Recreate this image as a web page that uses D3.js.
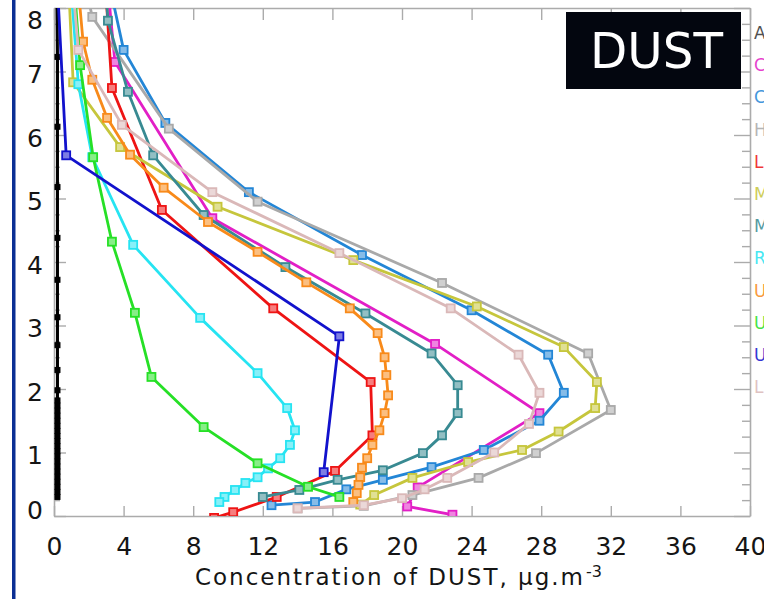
<!DOCTYPE html>
<html>
<head>
<meta charset="utf-8">
<script src="https://cdn.jsdelivr.net/npm/d3@7"></script>
<style>
  html, body { margin: 0; padding: 0; background: #ffffff; }
  svg { display: block; }
</style>
</head>
<body>
<svg id="chart" width="764" height="599"></svg>
<script>
// ---- axis ticks ----
const xTickValues = [0, 4, 8, 12, 16, 20, 24, 28, 32, 36, 40];
const yTickValues = [0, 1, 2, 3, 4, 5, 6, 7, 8];

// ---- series: [concentration (µg/m3), altitude (km)] ----
const seriesNames = ["ALADIN", "CHIMERE", "COSMO-MUSCAT", "HadGEM", "LMDz", "MesoNH",
                     "MM5", "RegCM", "UKMO", "UM-global", "UM-regional", "LMDz-INCA"];
const seriesColors = ["#000000", "#e21fc6", "#2386d6", "#a9a9a9", "#ee1414", "#c6c63c",
                      "#388a92", "#26e4f2", "#f88a1a", "#26e026", "#1212cc", "#dab8b8"];

const aladin = [[0.2,0.30],[0.2,0.38],[0.2,0.46],[0.2,0.54],[0.2,0.62],[0.2,0.70],[0.2,0.78],
  [0.2,0.86],[0.2,0.94],[0.2,1.02],[0.2,1.10],[0.2,1.18],[0.2,1.26],[0.2,1.34],[0.2,1.42],
  [0.2,1.50],[0.2,1.58],[0.2,1.66],[0.2,1.74],[0.2,1.82],[0.2,1.98],[0.2,2.30],[0.2,2.69],
  [0.2,3.13],[0.2,3.72],[0.2,4.38],[0.2,5.18],[0.2,6.13],[0.2,7.23],[0.15,8.6]];
const chimere = [[3.0,8.6],[3.5,7.15],[9.1,4.69],[21.9,2.71],[27.9,1.62],[20.9,0.45],[20.3,0.15],[22.9,0.02]];
const cosmo = [[3.0,8.6],[4.0,7.34],[6.4,6.19],[11.2,5.1],[17.7,4.11],[24.0,3.24],[28.4,2.54],
  [29.3,1.94],[27.9,1.5],[24.7,1.04],[21.7,0.77],[18.9,0.57],[16.8,0.42],[15.0,0.22],[12.5,0.17]];
const hadgem = [[1.6,8.6],[2.2,7.86],[6.6,6.1],[11.7,4.95],[22.3,3.67],[30.7,2.56],[32.0,1.67],
  [27.7,0.99],[24.4,0.6],[20.6,0.33],[17.8,0.16],[14.0,0.12]];
const lmdz = [[2.9,8.6],[3.33,6.74],[6.2,4.82],[12.6,3.27],[18.2,2.11],[18.3,1.27],[16.15,0.71],
  [12.8,0.30],[10.3,0.06],[9.2,-0.03]];
const mesonh = [[0.8,8.6],[1.1,6.83],[3.8,5.81],[9.4,4.87],[17.2,4.03],[24.3,3.3],[29.3,2.66],
  [31.2,2.11],[31.1,1.70],[29.0,1.33],[26.9,1.04],[23.8,0.85],[20.6,0.6],[18.4,0.33],[17.6,0.18]];
const mm5 = [[2.9,8.6],[3.1,7.8],[4.25,6.68],[5.7,5.68],[8.6,4.74],[13.3,3.92],[17.9,3.19],
  [21.7,2.56],[23.2,2.06],[23.2,1.62],[22.3,1.27],[21.2,0.99],[18.9,0.72],[16.3,0.57],[14.1,0.41],[12.0,0.30]];
const regcm = [[0.9,8.6],[1.4,6.8],[2.2,5.65],[4.55,4.27],[8.4,3.12],[11.7,2.25],[13.4,1.70],
  [13.85,1.35],[13.56,1.12],[13.0,0.91],[12.3,0.75],[11.7,0.61],[11.0,0.52],[10.4,0.41],[9.8,0.30],[9.5,0.22]];
const ukmo = [[1.3,8.6],[1.67,7.47],[2.2,6.87],[3.05,6.27],[4.37,5.69],[6.3,5.17],[8.85,4.63],
  [11.7,4.16],[14.5,3.68],[17.0,3.27],[18.6,2.88],[19.0,2.5],[19.1,2.22],[19.2,1.9],[19.0,1.62],
  [18.7,1.35],[18.3,1.12],[18.0,0.91],[17.7,0.76],[17.6,0.61],[17.5,0.49],[17.4,0.36],[17.2,0.22]];
const umGlobal = [[1.1,8.6],[1.5,7.1],[2.25,5.65],[3.33,4.32],[4.65,3.2],[5.6,2.19],[8.6,1.40],
  [11.7,0.83],[14.6,0.46],[16.4,0.30]];
const umRegional = [[0.15,8.6],[0.7,5.68],[16.4,2.83],[15.5,0.69]];
const lmdzInca = [[1.0,8.6],[1.4,7.34],[3.9,6.16],[9.1,5.1],[16.4,4.14],[22.8,3.27],[26.7,2.54],
  [27.9,1.94],[27.3,1.45],[25.3,1.0],[22.6,0.6],[21.3,0.42],[20.0,0.28],[17.8,0.17],[14.0,0.12]];

const seriesData = [aladin, chimere, cosmo, hadgem, lmdz, mesonh, mm5, regcm, ukmo, umGlobal, umRegional, lmdzInca];

// ---- layout ----
const svg = d3.select("#chart");
const plot = { left: 54, right: 750, top: 8, bottom: 516 };

const x = d3.scaleLinear().domain([0, 40]).range([plot.left, plot.right]);
const y = d3.scaleLinear().domain([0, 8]).range([plot.bottom, plot.top]);

// page border stripe on the left
svg.append("rect").attr("x", 12).attr("y", 0).attr("width", 3.5).attr("height", 599).attr("fill", "#0b2f94");

svg.append("clipPath").attr("id", "plotClip")
  .append("rect")
  .attr("x", plot.left).attr("y", plot.top)
  .attr("width", plot.right - plot.left).attr("height", plot.bottom - plot.top);

const axisColor = "#ababab";
const labelFont = "'DejaVu Sans', sans-serif";

function styleAxis(g) {
  g.selectAll("path.domain").attr("stroke", axisColor).attr("stroke-width", 1.6);
  g.selectAll(".tick line").attr("stroke", axisColor).attr("stroke-width", 1.4);
  g.selectAll(".tick text").attr("fill", "#151515").style("font-family", labelFont).style("font-size", "25px");
}

// bottom axis with labels
const gx = svg.append("g")
  .attr("transform", `translate(0,${plot.bottom})`)
  .call(d3.axisBottom(x).tickValues(xTickValues).tickFormat(d3.format("d"))
    .tickSize(-10).tickSizeOuter(0).tickPadding(21));
styleAxis(gx);

// top axis, ticks only
const gxt = svg.append("g")
  .attr("transform", `translate(0,${plot.top})`)
  .call(d3.axisTop(x).tickValues(xTickValues).tickFormat("").tickSize(-12).tickSizeOuter(0));
styleAxis(gxt);

// left axis with labels
const gy = svg.append("g")
  .attr("transform", `translate(${plot.left},0)`)
  .call(d3.axisLeft(y).tickValues(yTickValues).tickFormat(d3.format("d"))
    .tickSize(-12).tickSizeOuter(0).tickPadding(11));
styleAxis(gy);
gy.selectAll(".tick text").attr("dy", d => d === 0 ? "0.1em" : d === 8 ? "0.8em" : "0.44em");

// right axis: majors and quarter-km minors
const minorY = d3.range(0, 8.001, 0.25).filter(v => Math.abs(v - Math.round(v)) > 1e-6);
const gyr = svg.append("g")
  .attr("transform", `translate(${plot.right},0)`)
  .call(d3.axisRight(y).tickValues(yTickValues).tickFormat("").tickSize(-16).tickSizeOuter(0));
styleAxis(gyr);
const gyrm = svg.append("g")
  .attr("transform", `translate(${plot.right},0)`)
  .call(d3.axisRight(y).tickValues(minorY).tickFormat("").tickSize(-8).tickSizeOuter(0));
styleAxis(gyrm);
gyrm.select("path.domain").remove();

const gylm = svg.append("g")
  .attr("transform", `translate(${plot.left},0)`)
  .call(d3.axisLeft(y).tickValues(minorY).tickFormat("").tickSize(-6).tickSizeOuter(0));
styleAxis(gylm);
gylm.select("path.domain").remove();

// ---- profiles ----
const line = d3.line().x(d => x(d[0])).y(d => y(d[1]));
const layer = svg.append("g").attr("clip-path", "url(#plotClip)");

seriesData.forEach((data, i) => {
  const color = seriesColors[i];
  const g = layer.append("g").attr("class", "series");
  g.append("path")
    .datum(data)
    .attr("d", line)
    .attr("fill", "none")
    .attr("stroke", color)
    .attr("stroke-width", i === 0 ? 3 : 2.8)
    .attr("stroke-linejoin", "round");
  const isBlack = i === 0;
  const s = isBlack ? 5 : 8;
  g.selectAll("rect")
    .data(data)
    .join("rect")
    .attr("x", d => x(d[0]) - s / 2)
    .attr("y", d => y(d[1]) - s / 2)
    .attr("width", s)
    .attr("height", s)
    .attr("fill", isBlack ? color : d3.interpolateRgb(color, "#ffffff")(0.45))
    .attr("stroke", color)
    .attr("stroke-width", isBlack ? 1 : 1.8);
});

// ---- axis title ----
svg.append("text")
  .attr("x", 195).attr("y", 585)
  .attr("textLength", 388).attr("lengthAdjust", "spacing")
  .style("font-family", labelFont).style("font-size", "23px").attr("fill", "#151515")
  .text("Concentration of DUST, μg.m");
svg.append("text")
  .attr("x", 586).attr("y", 577)
  .style("font-family", labelFont).style("font-size", "16px").attr("fill", "#151515")
  .text("-3");

// ---- species tag ----
svg.append("rect").attr("x", 566).attr("y", 12).attr("width", 175).attr("height", 77).attr("fill", "#03060f");
svg.append("text")
  .attr("x", 590).attr("y", 68)
  .attr("textLength", 133).attr("lengthAdjust", "spacingAndGlyphs")
  .style("font-family", labelFont).style("font-size", "50px").attr("fill", "#ffffff")
  .text("DUST");

// ---- legend (model names) ----
svg.append("g").selectAll("text")
  .data(seriesNames)
  .join("text")
  .attr("x", 754)
  .attr("y", (d, i) => 39 + i * 32.2)
  .style("font-family", labelFont).style("font-size", "17px")
  .attr("fill", (d, i) => i === 0 ? "#333333" : seriesColors[i])
  .attr("opacity", 0.85)
  .text(d => d);
</script>
</body>
</html>
